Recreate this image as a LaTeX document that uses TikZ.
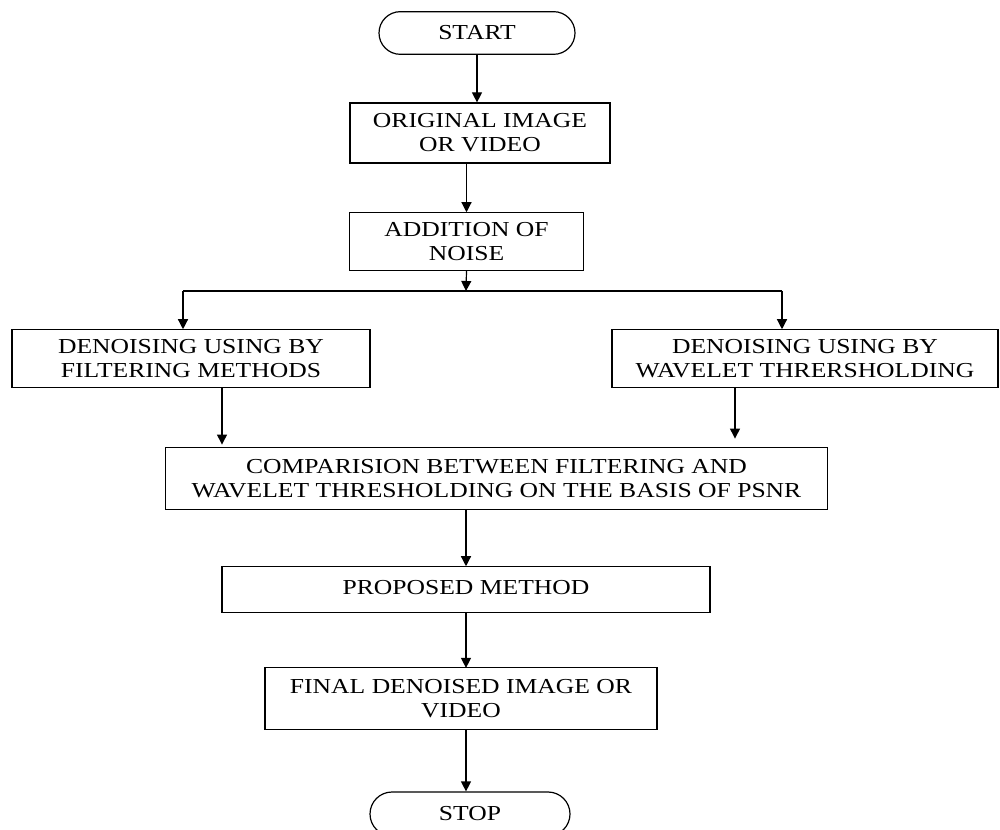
\documentclass[tikz,border=0pt]{standalone}
\usepackage{fontspec}
\setmainfont[FakeStretch=1.2]{Liberation Serif}
\usetikzlibrary{arrows.meta,shapes.misc}
\begin{document}
\begin{tikzpicture}[x=0.75pt,y=-0.75pt,
  every node/.style={font=\fontsize{16}{18}\selectfont, align=center, inner sep=0pt},
  box/.style={draw, line width=0.9pt, rectangle},
  term/.style={draw, line width=0.9pt, rounded rectangle, rounded rectangle arc length=180},
  arr/.style={line width=0.9pt, -{Triangle[length=7.5pt,width=7.5pt]}},
  ln/.style={line width=0.9pt}]
\fill[white] (0,0) rectangle (1000,830);
\useasboundingbox (0,0) rectangle (1000,830);
\clip (0,0) rectangle (1000,830);

\node[term, minimum width=147pt, minimum height=32pt] (start) at (477,33) {START};
\node[box, minimum width=195pt, minimum height=45pt] (orig) at (480,133) {ORIGINAL IMAGE\\OR VIDEO};
\node[box, minimum width=175pt, minimum height=43pt] (add) at (466.5,241.5) {ADDITION OF\\NOISE};
\node[box, minimum width=268.5pt, minimum height=43pt] (left) at (191,358.5) {DENOISING USING BY\\FILTERING METHODS};
\node[box, minimum width=289.5pt, minimum height=43pt] (right) at (805,358.5) {DENOISING USING BY\\WAVELET THRERSHOLDING};
\node[box, minimum width=497pt, minimum height=47pt] (comp) at (496.5,478.5) {COMPARISION BETWEEN FILTERING AND\\WAVELET THRESHOLDING ON THE BASIS OF PSNR};
\node[box, minimum width=366pt, minimum height=34pt] (prop) at (466,589.5) {\raisebox{3pt}{PROPOSED METHOD}};
\node[box, minimum width=294pt, minimum height=47pt] (final) at (461,698.5) {FINAL DENOISED IMAGE OR\\VIDEO};
\node[term, minimum width=150pt, minimum height=33pt] (stop) at (470,814) {STOP};

\coordinate (j) at (466,291);
\coordinate (jl) at (183,291);
\coordinate (jr) at (782,291);
\coordinate (lx) at (222,0);
\coordinate (rx) at (735,0);
\coordinate (mx) at (466,0);

\draw[arr] (start.south) -- (start.south |- orig.north);
\draw[arr] (add.north |- orig.south) -- (add.north);
\draw[arr] (add.south) -- (j);
\draw[ln] (jl) -- (jr);
\draw[arr] (jl) -- (jl |- left.north);
\draw[arr] (jr) -- (jr |- right.north);
\draw[arr] (lx |- left.south) -- ([yshift=1.5pt]lx |- comp.north);
\draw[arr] (rx |- right.south) -- ([yshift=6pt]rx |- comp.north);
\draw[arr] (mx |- comp.south) -- (mx |- prop.north);
\draw[arr] (mx |- prop.south) -- ([yshift=-1pt]mx |- final.north);
\draw[arr] (mx |- final.south) -- (mx |- stop.north);
\end{tikzpicture}
\end{document}
